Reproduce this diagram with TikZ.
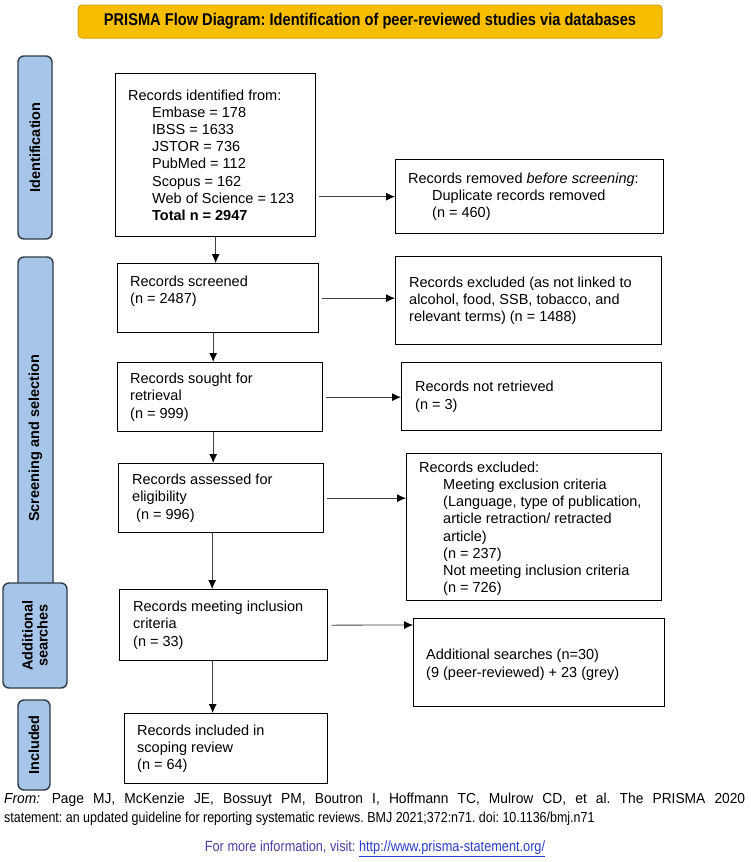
\documentclass[tikz,border=0pt]{standalone}
\usepackage{fontspec}
\setmainfont{Liberation Sans}
\newfontfamily\condfont[FakeStretch=0.86]{Liberation Sans}
\newfontfamily\semicondfont[FakeStretch=0.95]{Liberation Sans}
\usetikzlibrary{arrows.meta,calc}
\definecolor{lblue}{HTML}{A7C5E8}
\definecolor{lborder}{HTML}{2F3B48}
\definecolor{gold}{HTML}{F7BE00}
\definecolor{goldborder}{HTML}{D9A400}
\definecolor{infocol}{HTML}{4B3FA6}
\definecolor{linkcol}{HTML}{2A3DCC}
\tikzset{
  box/.style={draw=black, line width=1.3pt, fill=white, inner sep=0pt, anchor=north west},
  txt/.style={anchor=west, inner sep=0pt, align=left, font=\fontsize{14.5}{17.2}\selectfont},
  lab/.style={draw=lborder, fill=lblue, line width=1.4pt, rounded corners=6pt, rotate=90,
              inner sep=0pt, align=center, font=\bfseries\fontsize{14.5}{15}\selectfont},
  arr/.style={draw=black!75, line width=0.8pt, -{Latex[length=9pt,width=8pt,black]}},
}
\newcommand{\ind}{\hspace*{24pt}}
\frenchspacing
\begin{document}
\begin{tikzpicture}[x=1pt,y=-1pt]
\useasboundingbox (0,0) rectangle (750,862);
\fill[white] (0,0) rectangle (750,862);

% title banner
\node[draw=goldborder, fill=gold, line width=1pt, rounded corners=4pt,
      minimum width=584pt, minimum height=33pt, inner sep=0pt,
      font=\condfont\bfseries\fontsize{17}{19}\selectfont] (ttl) at (370,21.5)
  {PRISMA Flow Diagram: Identification of peer-reviewed studies via databases};

% side labels
\node[lab, minimum width=363pt, minimum height=35pt] (lscr) at (35.5,438.5) {Screening and selection};
\node[lab, minimum width=183pt, minimum height=34pt] (lid) at (35,147.5) {Identification};
\node[lab, minimum width=105pt, minimum height=64pt] (ladd) at (35,635.5) {Additional\\searches};
\node[lab, minimum width=90pt, minimum height=32pt] (linc) at (34,745) {Included};

% left column boxes
\node[box, minimum width=200pt, minimum height=163pt] (id) at (115,73) {};
\node[txt] (idt) at ([xshift=13pt]id.west) {Records identified from:\\
\ind Embase = 178\\ \ind IBSS = 1633\\ \ind JSTOR = 736\\ \ind PubMed = 112\\
\ind Scopus = 162\\ \ind Web of Science = 123\\ \ind\textbf{Total n = 2947}};

\node[box, minimum width=201pt, minimum height=69pt] (scr) at (117,263) {};
\node[txt] (scrt) at ([xshift=13pt]scr.west) {Records screened\\(n = 2487)\\\mbox{}};

\node[box, minimum width=205pt, minimum height=69pt] (sou) at (117,362) {};
\node[txt] (sout) at ([xshift=13pt]sou.west) {Records sought for\\retrieval\\(n = 999)};

\node[box, minimum width=205pt, minimum height=69pt] (ass) at (118,463) {};
\node[txt] (asst) at ([xshift=14pt]ass.west) {Records assessed for\\eligibility\\\hspace*{4pt}(n = 996)};

\node[box, minimum width=208pt, minimum height=71pt] (mee) at (119,589) {};
\node[txt] (meet) at ([xshift=14pt]mee.west) {Records meeting inclusion\\criteria\\(n = 33)};

\node[box, minimum width=203pt, minimum height=70pt] (inc) at (124,713) {};
\node[txt] (inct) at ([xshift=13pt]inc.west) {Records included in\\scoping review\\(n = 64)};

% right column boxes
\node[box, minimum width=268pt, minimum height=74pt] (rem) at (395,159) {};
\node[txt] (remt) at ([xshift=13pt]rem.west) {Records removed \textit{before screening}:\\
\ind Duplicate records removed\\ \ind (n = 460)};

\node[box, minimum width=266pt, minimum height=88pt] (ex1) at (395,256) {};
\node[txt] (ex1t) at ([xshift=14pt]ex1.west) {Records excluded (as not linked to\\alcohol, food, SSB, tobacco, and\\relevant terms) (n = 1488)};

\node[box, minimum width=260pt, minimum height=68pt] (nre) at (401,362) {};
\node[txt] (nret) at ([xshift=14pt]nre.west) {Records not retrieved\\(n = 3)};

\node[box, minimum width=255pt, minimum height=147pt] (ex2) at (406,453) {};
\node[txt] (ex2t) at ([xshift=13pt,yshift=-1.5pt]ex2.west) {Records excluded:\\
\ind Meeting exclusion criteria\\ \ind (Language, type of publication,\\
\ind article retraction/ retracted\\ \ind article)\\ \ind (n = 237)\\
\ind Not meeting inclusion criteria\\ \ind (n = 726)};

\node[box, minimum width=251pt, minimum height=88pt] (add) at (413,618) {};
\node[txt] (addt) at ([xshift=13pt,yshift=-2pt]add.west) {Additional searches (n=30)\\(9 (peer-reviewed) + 23 (grey)};

% vertical arrows
\draw[arr] (id.south) -- (scr.north -| id.south);
\draw[arr] ([xshift=-5pt]scr.south) -- ([xshift=-5pt]scr.south |- sou.north);
\draw[arr] ([xshift=-7pt]sou.south) -- ([xshift=-7pt]sou.south |- ass.north);
\draw[arr] ([xshift=-9pt]ass.south) -- ([xshift=-9pt]ass.south |- mee.north);
\draw[arr] ([xshift=-11pt]mee.south) -- ([xshift=-11pt]mee.south |- inc.north);

% horizontal arrows
\draw[arr] ([xshift=3pt]id.east |- rem.west) -- (rem.west);
\draw[arr] ([xshift=3pt]scr.east) -- (scr.east -| ex1.west);
\draw[arr] ([xshift=3pt]sou.east) -- (sou.east -| nre.west);
\draw[arr] ([xshift=3pt]ass.east) -- (ass.east -| ex2.west);
\draw[arr] ([xshift=3pt]mee.east) -- ([yshift=-7pt]add.north west);

% footer
\node[anchor=west, inner sep=0pt, font=\semicondfont\fontsize{14.5}{17}\selectfont] (ref1) at (4,800)
  {\makebox[741pt][s]{\textit{From:}\hspace{0.8em}Page MJ, McKenzie JE, Bossuyt PM, Boutron I, Hoffmann TC, Mulrow CD, et al. The PRISMA 2020}};
\node[anchor=west, inner sep=0pt, font=\condfont\fontsize{14.5}{17}\selectfont] (ref2) at (4,819)
  {statement: an updated guideline for reporting systematic reviews. BMJ 2021;372:n71. doi: 10.1136/bmj.n71};
\node[inner sep=0pt, font=\condfont\fontsize{14.8}{17}\selectfont] (info) at (375,849)
  {\textcolor{infocol}{For more information, visit:} \textcolor{linkcol}{\underline{http://www.prisma-statement.org/}}};
\end{tikzpicture}
\end{document}
